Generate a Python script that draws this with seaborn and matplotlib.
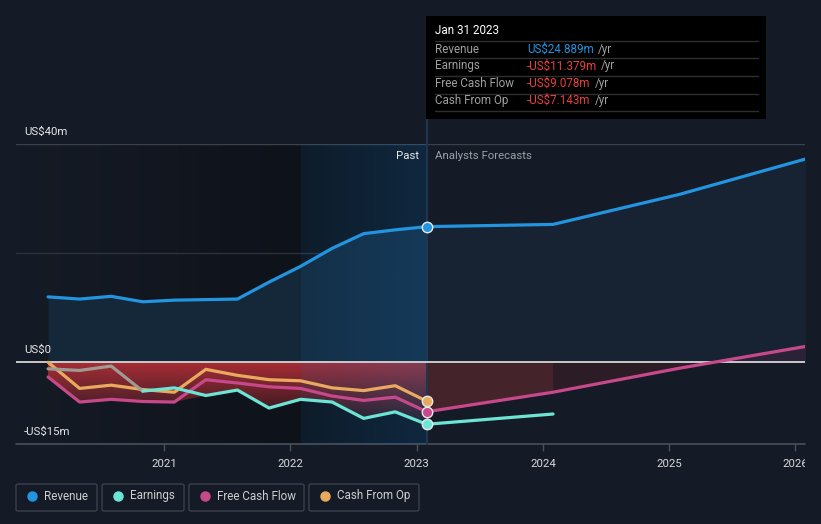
import numpy as np
import pandas as pd
import matplotlib
matplotlib.use("Agg")
import matplotlib.pyplot as plt
import seaborn as sns
from matplotlib.patches import FancyBboxPatch, Rectangle
from matplotlib.transforms import Bbox, TransformedBbox

# ---------------- data (US$ m, decimal years) ----------------
past_t = [2020.08, 2020.33, 2020.58, 2020.83, 2021.08, 2021.33, 2021.58,
          2021.83, 2022.08, 2022.33, 2022.58, 2022.83, 2023.08]
rev_past = [12.0, 11.6, 12.1, 11.1, 11.4, 11.5, 11.6, 14.7, 17.6, 20.9, 23.6, 24.3, 24.889]
earn_past = [-1.2, -1.5, -0.7, -5.3, -4.7, -6.1, -5.1, -8.4, -6.8, -7.3, -10.3, -9.1, -11.379]
fcf_past = [-2.7, -7.3, -6.8, -7.2, -7.3, -3.2, -3.8, -4.5, -4.8, -6.2, -7.0, -6.4, -9.078]
cfo_past = [0.0, -4.8, -4.2, -5.0, -5.5, -1.3, -2.4, -3.2, -3.4, -4.7, -5.2, -4.3, -7.143]

fc_t = [2023.08, 2024.08, 2025.08, 2026.08]
rev_fc = [24.889, 25.3, 30.8, 37.3]
fcf_fc = [-9.078, -5.5, -1.1, 2.9]
earn_fc_t = [2023.08, 2024.08]
earn_fc = [-11.379, -9.5]

year_ticks = [2021, 2022, 2023, 2024, 2025, 2026]
legend_names = ["Revenue", "Earnings", "Free Cash Flow", "Cash From Op"]
tooltip_date = "Jan 31 2023"
tooltip_rows = [("Revenue", "US$24.889m"), ("Earnings", "-US$11.379m"),
                ("Free Cash Flow", "-US$9.078m"), ("Cash From Op", "-US$7.143m")]

# ---------------- style ----------------
BG = "#151b26"
C_REV = "#2394df"
C_EARN = "#6ce5d5"
C_FCF = "#c8488c"
C_CFO = "#e8aa5e"
C_GRAY = "#a09a94"
C_NEG = "#e8403f"

W, H = 821, 524
sns.set_style("dark")
plt.rcParams["font.family"] = ["Roboto", "DejaVu Sans"]

fig = plt.figure(figsize=(W / 100, H / 100), dpi=100, facecolor=BG)
X0, X1, Y0, Y1 = 16, 805, 144.3, 444.0
ax = fig.add_axes([X0 / W, 1 - Y1 / H, (X1 - X0) / W, (Y1 - Y0) / H])
ax.set_facecolor(BG)
for s in ax.spines.values():
    s.set_visible(False)

XMIN, XMAX = 2019.826, 2026.076
YMIN, YMAX = -15, 40
PAST_END = 2023.08
BAND_START = 2022.08

# past darkening gradient
dark = np.zeros((1, 256, 4))
dark[..., 3] = np.linspace(0.0, 0.33, 256)
ax.imshow(dark, extent=[XMIN, BAND_START, YMIN, YMAX], aspect="auto",
          zorder=0.3, interpolation="bilinear")
dark2 = np.zeros((1, 2, 4))
dark2[..., 3] = 0.33
ax.imshow(dark2, extent=[BAND_START, PAST_END, YMIN, YMAX], aspect="auto",
          zorder=0.3, interpolation="nearest")

# grid lines
ax.axhline(40, color="#3a414b", lw=1.0, zorder=0.6)
ax.axhline(20, color="#2b323c", lw=1.0, zorder=0.6)
ax.axhline(-15, color="#4a515b", lw=1.2, zorder=0.6, clip_on=False)

# revenue fills
ax.fill_between(past_t, rev_past, 0, color="#15283a", lw=0, zorder=1)
ax.fill_between(fc_t, rev_fc, 0, color="#172332", lw=0, zorder=1)

# negative area (past): vertical red gradient clipped to area under the lowest line
low_past = np.minimum(np.minimum(earn_past, fcf_past), cfo_past)
poly = ax.fill_between(past_t, 0, low_past, color="none", lw=0, zorder=1.2)
red = np.zeros((256, 1, 4))
red[..., 0] = 0.74
red[..., 1] = 0.19
red[..., 2] = 0.22
red[..., 3] = np.linspace(0.88, 0.05, 256)[:, None]
im = ax.imshow(red, extent=[XMIN, PAST_END, -12, 0], aspect="auto",
               zorder=1.2, interpolation="bilinear")
im.set_clip_path(poly.get_paths()[0], transform=ax.transData)

# forecast negative fills under FCF
ax.fill_between(fc_t[:2], 0, fcf_fc[:2], color="#45232b", lw=0, zorder=1.2)
fcf2_t = np.array(fc_t[1:])
fcf2_v = np.array(fcf_fc[1:])
ax.fill_between(fcf2_t, 0, fcf2_v, where=fcf2_v <= 0, interpolate=True,
                color="#2c1c25", lw=0, zorder=1.2)
ax.fill_between(fcf2_t, 0, fcf2_v, where=fcf2_v >= 0, interpolate=True,
                color="#2a2236", lw=0, zorder=1.2)

# last-year highlight band overlay
band = np.zeros((1, 256, 4))
band[..., 0] = 20 / 255
band[..., 1] = 120 / 255
band[..., 2] = 200 / 255
band[..., 3] = np.linspace(0.10, 0.22, 256)
ax.imshow(band, extent=[BAND_START, PAST_END, YMIN, YMAX], aspect="auto",
          zorder=1.5, interpolation="bilinear")

# zero line
ax.axhline(0, color="#d6d6d6", lw=1.3, zorder=2)

# vertical marker line at Jan 31 2023
ax.axvline(PAST_END, ymin=0, ymax=(Y1 - 119) / (Y1 - Y0), color="#1f364c",
           lw=1.5, zorder=1.6, clip_on=False)

# ---------------- lines ----------------
lw = 2.3
sns.lineplot(x=past_t, y=rev_past, ax=ax, color=C_REV, lw=lw, zorder=3)
sns.lineplot(x=fc_t, y=rev_fc, ax=ax, color=C_REV, lw=lw, zorder=3)
sns.lineplot(x=past_t, y=cfo_past, ax=ax, color=C_CFO, lw=lw, zorder=3)
sns.lineplot(x=past_t, y=fcf_past, ax=ax, color=C_FCF, lw=lw, zorder=3)
sns.lineplot(x=fc_t, y=fcf_fc, ax=ax, color=C_FCF, lw=lw, zorder=3)
sns.lineplot(x=past_t[:4], y=earn_past[:4], ax=ax, color=C_GRAY, lw=lw, zorder=3)
sns.lineplot(x=past_t[3:], y=earn_past[3:], ax=ax, color=C_EARN, lw=lw, zorder=3)
sns.lineplot(x=earn_fc_t, y=earn_fc, ax=ax, color=C_EARN, lw=lw, zorder=3)

for val, col in [(rev_past[-1], C_REV), (cfo_past[-1], C_CFO),
                 (fcf_past[-1], C_FCF), (earn_past[-1], C_EARN)]:
    ax.plot([PAST_END], [val], "o", ms=7.5, mfc=col, mec="#e8e8e8", mew=1.0,
            zorder=4, clip_on=False)

ax.set_xlim(XMIN, XMAX)
ax.set_ylim(YMIN, YMAX)
ax.set_yticks([])
ax.set_xticks(year_ticks)
ax.set_xticklabels([str(y) for y in year_ticks])
ax.tick_params(axis="x", colors="#4a515b", length=5, width=1, pad=6,
               labelcolor="#d8d8d8", labelsize=8.2, bottom=True)
ax.grid(False)
clipbox = TransformedBbox(Bbox([[0, 0], [X1 / W, 1]]), fig.transFigure)
for lab in ax.get_xticklabels():
    lab.set_clip_on(True)
    lab.set_clip_box(clipbox)


# ---------------- texts ----------------
def ftext(x, y, s, **kw):
    kw.setdefault("va", "center")
    return fig.text(x / W, 1 - y / H, s, **kw)


ftext(24, 132, "US$40m", color="#e6e6e6", fontsize=8.2)
ftext(24, 350, "US$0", color="#e6e6e6", fontsize=8.2)
ftext(24, 432, "-US$15m", color="#e6e6e6", fontsize=8.2)
ftext(419, 156, "Past", color="#e8e8e8", fontsize=8.2, ha="right")
ftext(435, 156, "Analysts Forecasts", color="#9aa0a6", fontsize=8.2, ha="left")

# tooltip
fig.patches.append(Rectangle((426 / W, 1 - 119 / H), 340 / W, 103 / H,
                             transform=fig.transFigure, facecolor="#000000",
                             edgecolor="none", zorder=5))
ftext(435, 31, tooltip_date, color="#ffffff", fontsize=8.4, zorder=6)
for yy in [41.3, 58.3, 76.3, 93.7, 111.3]:
    fig.lines.append(plt.Line2D([435 / W, 758 / W], [1 - yy / H, 1 - yy / H],
                                transform=fig.transFigure, color="#2e2e2e",
                                lw=1.0, zorder=6))
row_y = [49.3, 66.0, 83.7, 100.7]
renderer = fig.canvas.get_renderer()
for (lab, val), yy in zip(tooltip_rows, row_y):
    ftext(435, yy, lab, color="#a0a0a0", fontsize=8.4, zorder=6)
    t = ftext(527, yy, val, color=C_REV if not val.startswith("-") else C_NEG,
              fontsize=8.4, zorder=6)
    ext = t.get_window_extent(renderer=renderer)
    ftext(ext.x1 + 4, yy, "/yr", color="#a0a0a0", fontsize=8.4, zorder=6)

# legend
boxes = [(16, 97), (102, 184), (189, 304), (309, 419)]
cols = [C_REV, C_EARN, C_FCF, C_CFO]
for (bx0, bx1), name, col in zip(boxes, legend_names, cols):
    fig.patches.append(FancyBboxPatch((bx0 / W, 1 - 511 / H), (bx1 - bx0) / W, 27 / H,
                                      boxstyle="round,pad=0,rounding_size=0.003",
                                      transform=fig.transFigure, facecolor="none",
                                      edgecolor="#3a414c", lw=1.0))
    fig.lines.append(plt.Line2D([(bx0 + 16) / W], [1 - 496 / H], marker="o",
                                ms=6.5, mfc=col, mec=col, transform=fig.transFigure))
    ftext(bx0 + 28, 496, name, color="#cfcfcf", fontsize=8.4)

fig.savefig("out.png", dpi=100, facecolor=BG)
